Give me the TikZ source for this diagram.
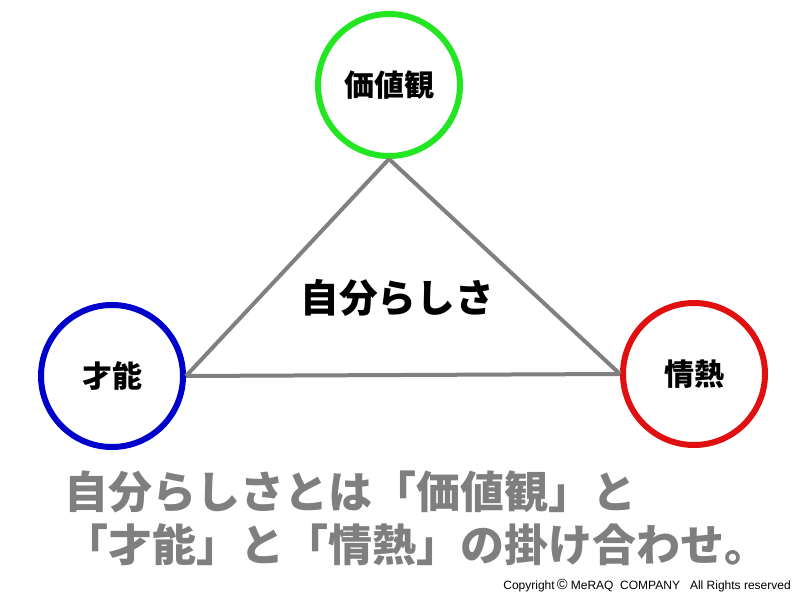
\documentclass[tikz,border=0pt]{standalone}
\usepackage{fontspec}
\setmainfont{Liberation Sans}
\newfontfamily\jp{Noto Sans CJK JP}
\usetikzlibrary{positioning}

\definecolor{ringgreen}{RGB}{34,230,34}
\definecolor{ringblue}{RGB}{0,0,204}
\definecolor{ringred}{RGB}{224,16,16}
\definecolor{linegray}{RGB}{128,128,128}
\definecolor{textgray}{RGB}{127,127,127}

\begin{document}
\begin{tikzpicture}[x=0.75pt,y=0.75pt,
    ring/.style={circle, draw=#1, line width=4.5pt, minimum size=106.5pt, inner sep=0pt, fill=white,
        font=\jp\bfseries\fontsize{22.5}{24}\selectfont},
    side/.style={linegray, line width=3pt},
    motto/.style={anchor=west, inner sep=0pt, textgray, font=\jp\bfseries\fontsize{33}{36}\selectfont}]
        % Fix the page size
        \useasboundingbox (0,0) rectangle (800,600);

        % Draw the three circles
        \node[ring=ringgreen] (values) at (389,515) {価値観};
        \node[ring=ringblue] (talent) at (112,224) {才能};
        \node[ring=ringred] (passion) at (694,226) {情熱};

        % Draw the triangle between them
        \draw[side] (values.south) -- (talent.east);
        \draw[side] (values.south) -- (passion.west);
        \draw[side] (talent.east) -- (passion.west);

        % Label in the middle
        \node[font=\jp\bfseries\fontsize{29}{32}\selectfont] (self) at (397,302) {自分らしさ};

        % Text below
        \node[motto] (line1) at (64,108) {自分らしさとは「価値観」と};
        \node[motto] (line2) at (64,55) {「才能」と「情熱」の掛け合わせ。};

        % Copyright
        \node[anchor=east, inner sep=0pt, font=\fontsize{9}{10}\selectfont] (copy) at (791,14)
            {Copyright\,{\fontsize{11}{10}\selectfont\textcopyright} MeRAQ\ \ COMPANY\ \ \ All Rights reserved};
    \end{tikzpicture}
\end{document}
